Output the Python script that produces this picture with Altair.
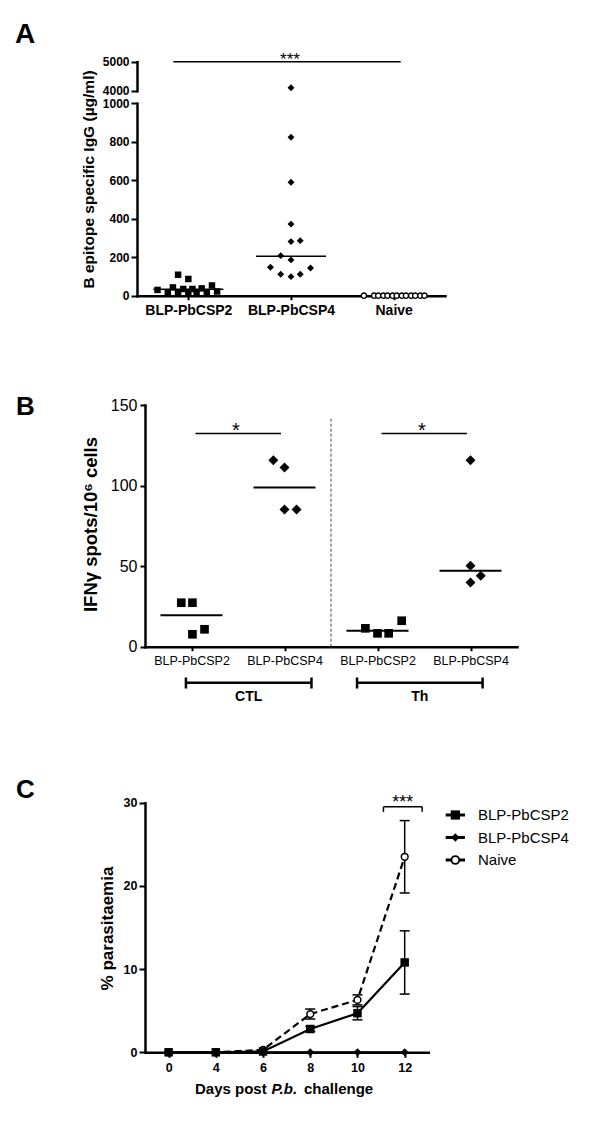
import altair as alt
import pandas as pd

FONT = "Liberation Sans"

# ---------------- Panel A : B epitope specific IgG ----------------
a_groups = ["BLP-PbCSP2", "BLP-PbCSP4", "Naive"]
a_csp2_igg = [109, 87, 30, 43, 35, 35, 38, 53, 18, 16, 14, 14, 16, 22]
a_csp2_jit = [-0.10, 0.00, -0.30, -0.15, -0.05, 0.04, 0.13, 0.23, -0.20, -0.10, 0.00, 0.08, 0.18, 0.28]
a_csp4_igg = [4100, 823, 589, 372, 281, 286, 208, 186, 148, 144, 111, 99, 111]
a_csp4_jit = [0.00, 0.00, 0.00, 0.00, 0.00, 0.09, -0.10, 0.00, -0.20, 0.19, -0.10, 0.00, 0.09]
a_naive_igg = [0, 0, 0, 0, 0, 0, 0, 0, 0, 0, 0, 0, 0]
a_naive_jit = [-0.29, -0.19, -0.15, -0.10, -0.06, -0.01, 0.03, 0.08, 0.12, 0.17, 0.21, 0.26, 0.30]
a_medians = [33, 205, 0]
a_ticks_low = [0, 200, 400, 600, 800, 1000]
a_ticks_high = [4000, 5000]
a_sig_pair = ["BLP-PbCSP2", "Naive"]
a_sig_level = 5000
a_sig_label = "***"

# ---------------- Panel B : IFN-gamma ELISpot ----------------
b_groups = ["CTL:BLP-PbCSP2", "CTL:BLP-PbCSP4", "Th:BLP-PbCSP2", "Th:BLP-PbCSP4"]
b_ctl_csp2 = [27.3, 27.3, 7.7, 10.8]
b_ctl_csp2_jit = [-0.11, 0.01, 0.01, 0.14]
b_ctl_csp4 = [115.7, 111.2, 85.2, 85.2]
b_ctl_csp4_jit = [-0.12, 0.00, 0.00, 0.13]
b_th_csp2 = [11.4, 8.3, 8.3, 16.1]
b_th_csp2_jit = [-0.13, 0.00, 0.12, 0.26]
b_th_csp4 = [115.7, 50.2, 44.0, 39.9]
b_th_csp4_jit = [0.00, 0.00, 0.11, 0.00]
b_medians = [19.5, 98.8, 9.9, 47.1]
b_ticks = [0, 50, 100, 150]
b_sig_from = ["CTL:BLP-PbCSP2", "Th:BLP-PbCSP2"]
b_sig_to = ["CTL:BLP-PbCSP4", "Th:BLP-PbCSP4"]
b_sig_level = [132.3, 132.3]
b_sig_label = ["*", "*"]
b_brackets = ["CTL", "Th"]
b_bracket_start = [-0.06, 1.78]
b_bracket_end = [1.29, 3.13]
b_divider_pos = [1.5]
b_divider_range = [0, 142.6]

# ---------------- Panel C : parasitaemia ----------------
c_days = [0, 4, 6, 8, 10, 12]
c_series = ["BLP-PbCSP2", "BLP-PbCSP4", "Naive"]
c_csp2 = [0, 0, 0.1, 2.8, 4.7, 10.8]
c_csp2_sem = [0, 0, 0, 0.3, 0.8, 3.8]
c_csp4 = [0, 0, 0, 0, 0, 0]
c_csp4_sem = [0, 0, 0, 0, 0, 0]
c_naive = [0, 0, 0.3, 4.6, 6.3, 23.5]
c_naive_sem = [0, 0, 0, 0.6, 0.6, 4.35]
c_ticks = [0, 10, 20, 30]
c_sig_from = [4.55]
c_sig_to = [5.37]
c_sig_level = [29.5]
c_sig_drop = [28.9]
c_sig_label = ["***"]
c_xtitle = ["Days post", "P.b.", "challenge"]
panel_letters = ["A", "B", "C"]

# ---------------- layout (plot-area pixels) ----------------
W, H = 584, 1112
XA_PT = alt.Scale(type="point", domain=a_groups, range=[129, 437], padding=0.5)
XA_LIN = alt.Scale(domain=[-0.5, 2.5], range=[129, 437])
YA_HI = alt.Scale(domain=[4000, 5000], range=[82.7, 53.7])
YA_LO = alt.Scale(domain=[0, 1000], range=[287.7, 95.2])

XB_PT = alt.Scale(type="point", domain=b_groups, range=[137, 509], padding=0.5)
XB_LIN = alt.Scale(domain=[-0.5, 3.5], range=[137, 509])
YB = alt.Scale(domain=[0, 150], range=[638.7, 397])

XC_PT = alt.Scale(type="point", domain=c_days, range=[137, 420.3], padding=0.5)
XC_LIN = alt.Scale(domain=[-0.5, 5.5], range=[137, 420.3])
YC = alt.Scale(domain=[0, 30], range=[1044.3, 794.7])

LEG_X = alt.Scale(domain=[0, 1], range=[437.7, 457])
LEG_Y = alt.Scale(type="point", domain=c_series, range=[807, 852], padding=0)


def axis(orient, offset, size=12.5, weight="bold", tick=5, pad=3, **kw):
    args = dict(orient=orient, offset=offset, grid=False, domainColor="black",
                domainWidth=2.5, domainCap="square", tickColor="black", tickWidth=2,
                tickSize=tick, labelPadding=pad, labelColor="black", labelFont=FONT,
                labelFontSize=size, labelFontWeight=weight, labelFlush=False,
                labelOverlap=False)
    if orient == "bottom":
        args["labelAngle"] = 0
    args.update(kw)
    return alt.Axis(**args)


def ytitle(text, size, tx, ty):
    return dict(title=text, titleFont=FONT, titleFontSize=size, titleFontWeight="bold",
                titleColor="black", titleAngle=270, titleBaseline="alphabetic",
                titleAlign="center", titleX=tx, titleY=ty)


layers = []

# ---------- Panel A ----------
a_rows = []
for gi, (vals, jits) in enumerate([(a_csp2_igg, a_csp2_jit), (a_csp4_igg, a_csp4_jit),
                                   (a_naive_igg, a_naive_jit)]):
    for v, j in zip(vals, jits):
        a_rows.append({"group": a_groups[gi], "pos": gi + j, "igg": v})
dfa = pd.DataFrame(a_rows)
dfa_lo = dfa[dfa["igg"] <= 1000]
dfa_hi = dfa[dfa["igg"] > 1000]
dfa_med = pd.DataFrame({"group": a_groups, "median": a_medians})

layers.append(alt.Chart(dfa_med).mark_tick(size=70, thickness=1.5, color="black", opacity=1).encode(
    x=alt.X("group:N", scale=XA_PT, axis=axis("bottom", 287.7 - H, size=14, tick=4, pad=4, title=None)),
    y=alt.Y("median:Q", scale=YA_LO,
            axis=axis("left", -129, size=12, tick=6, pad=2, values=a_ticks_low, format="d",
                      **ytitle("B epitope specific IgG (µg/ml)", 15.5, -44, 171)))))

layers.append(alt.Chart(dfa_lo[dfa_lo["group"] == a_groups[0]]).mark_point(
    shape="square", filled=True, size=42, color="black", opacity=1).encode(
    x=alt.X("pos:Q", scale=XA_LIN, axis=None), y=alt.Y("igg:Q", scale=YA_LO, axis=None)))
layers.append(alt.Chart(dfa_lo[dfa_lo["group"] == a_groups[1]]).mark_point(
    shape="diamond", filled=True, size=48, color="black", opacity=1).encode(
    x=alt.X("pos:Q", scale=XA_LIN, axis=None), y=alt.Y("igg:Q", scale=YA_LO, axis=None)))
layers.append(alt.Chart(dfa_lo[dfa_lo["group"] == a_groups[2]]).mark_point(
    shape="circle", filled=True, fill="white", stroke="black", strokeWidth=1.4, size=28, opacity=1).encode(
    x=alt.X("pos:Q", scale=XA_LIN, axis=None), y=alt.Y("igg:Q", scale=YA_LO, axis=None)))
layers.append(alt.Chart(dfa_hi).mark_point(
    shape="diamond", filled=True, size=48, color="black", opacity=1).encode(
    x=alt.X("pos:Q", scale=XA_LIN, axis=None),
    y=alt.Y("igg:Q", scale=YA_HI, axis=axis("left", -129, size=12, tick=6, pad=2, values=a_ticks_high,
                                            format="d", title=None))))

dfa_sig = pd.DataFrame({"i1": [a_groups.index(a_sig_pair[0])], "i2": [a_groups.index(a_sig_pair[1])],
                        "level": [a_sig_level], "label": [a_sig_label]})
dfa_sig["mid"] = (dfa_sig["i1"] + dfa_sig["i2"]) / 2
layers.append(alt.Chart(dfa_sig).mark_rule(color="black", strokeWidth=1.5, xOffset=-15, x2Offset=7).encode(
    x=alt.X("i1:Q", scale=XA_LIN, axis=None), x2="i2:Q",
    y=alt.Y("level:Q", scale=YA_HI, axis=None)))
layers.append(alt.Chart(dfa_sig).mark_text(fontSize=17, baseline="alphabetic", dy=3, dx=-1,
                                           color="black").encode(
    x=alt.X("mid:Q", scale=XA_LIN, axis=None), y=alt.Y("level:Q", scale=YA_HI, axis=None),
    text="label:N"))

# ---------- Panel B ----------
b_rows = []
for gi, (vals, jits) in enumerate([(b_ctl_csp2, b_ctl_csp2_jit), (b_ctl_csp4, b_ctl_csp4_jit),
                                   (b_th_csp2, b_th_csp2_jit), (b_th_csp4, b_th_csp4_jit)]):
    for v, j in zip(vals, jits):
        b_rows.append({"group": b_groups[gi], "vaccine": b_groups[gi].split(":")[1],
                       "pos": gi + j, "spots": v})
dfb = pd.DataFrame(b_rows)
dfb_med = pd.DataFrame({"group": b_groups, "median": b_medians})

layers.append(alt.Chart(dfb_med).mark_tick(size=62, thickness=2, color="black", opacity=1).encode(
    x=alt.X("group:N", scale=XB_PT,
            axis=axis("bottom", 638.7 - H, size=12.5, weight="normal", tick=4, pad=3.5, title=None,
                      labelExpr="split(datum.label, ':')[1]")),
    y=alt.Y("median:Q", scale=YB,
            axis=axis("left", -137, size=16, weight="normal", tick=5, pad=3, values=b_ticks,
                      format="d", **ytitle("IFNγ spots/10⁶ cells", 18.5, -48.5, 516)))))

layers.append(alt.Chart(dfb[dfb["vaccine"] == "BLP-PbCSP2"]).mark_point(
    shape="square", filled=True, size=75, color="black", opacity=1).encode(
    x=alt.X("pos:Q", scale=XB_LIN, axis=None), y=alt.Y("spots:Q", scale=YB, axis=None)))
layers.append(alt.Chart(dfb[dfb["vaccine"] == "BLP-PbCSP4"]).mark_point(
    shape="diamond", filled=True, size=100, color="black", opacity=1).encode(
    x=alt.X("pos:Q", scale=XB_LIN, axis=None), y=alt.Y("spots:Q", scale=YB, axis=None)))

dfb_div = pd.DataFrame({"pos": b_divider_pos, "bottom": [b_divider_range[0]], "top": [b_divider_range[1]]})
layers.append(alt.Chart(dfb_div).mark_rule(color="#444444", strokeWidth=1, strokeDash=[3, 2]).encode(
    x=alt.X("pos:Q", scale=XB_LIN, axis=None),
    y=alt.Y("bottom:Q", scale=YB, axis=None), y2="top:Q"))

dfb_sig = pd.DataFrame({"i1": [b_groups.index(f) for f in b_sig_from],
                        "i2": [b_groups.index(t) for t in b_sig_to],
                        "level": b_sig_level, "label": b_sig_label})
dfb_sig["mid"] = (dfb_sig["i1"] + dfb_sig["i2"]) / 2
layers.append(alt.Chart(dfb_sig).mark_rule(color="black", strokeWidth=1.5, xOffset=4, x2Offset=-3.5).encode(
    x=alt.X("i1:Q", scale=XB_LIN, axis=None), x2="i2:Q",
    y=alt.Y("level:Q", scale=YB, axis=None)))
layers.append(alt.Chart(dfb_sig).mark_text(fontSize=20, baseline="alphabetic", dy=3.2, dx=-2,
                                           color="black").encode(
    x=alt.X("mid:Q", scale=XB_LIN, axis=None), y=alt.Y("level:Q", scale=YB, axis=None), text="label:N"))

dfb_br = pd.DataFrame({"name": b_brackets, "start": b_bracket_start, "end": b_bracket_end})
dfb_br["mid"] = (dfb_br["start"] + dfb_br["end"]) / 2
layers.append(alt.Chart(dfb_br).mark_rule(color="black", strokeWidth=2.5).encode(
    x=alt.X("start:Q", scale=XB_LIN, axis=None), x2="end:Q", y=alt.value(674.7)))
for endf in ["start", "end"]:
    layers.append(alt.Chart(dfb_br).mark_rule(color="black", strokeWidth=2.5).encode(
        x=alt.X(f"{endf}:Q", scale=XB_LIN, axis=None), y=alt.value(669.5), y2=alt.value(680.5)))
layers.append(alt.Chart(dfb_br).mark_text(
    fontSize=14, fontWeight="bold", baseline="middle", color="black").encode(
    x=alt.X("mid:Q", scale=XB_LIN, axis=None), y=alt.value(689), text="name:N"))

# ---------- Panel C ----------
c_rows = []
for s, means, sems in zip(c_series, [c_csp2, c_csp4, c_naive], [c_csp2_sem, c_csp4_sem, c_naive_sem]):
    for d, m, e in zip(c_days, means, sems):
        c_rows.append({"series": s, "day": d, "mean": m, "sem": e, "lo": m - e, "hi": m + e})
dfc = pd.DataFrame(c_rows)
dfc_err = dfc[dfc["sem"] > 0]

# error bars
layers.append(alt.Chart(dfc_err).mark_rule(color="black", strokeWidth=1.5).encode(
    x=alt.X("day:O", scale=XC_PT, axis=None), y=alt.Y("lo:Q", scale=YC, axis=None), y2="hi:Q"))
for f in ["lo", "hi"]:
    layers.append(alt.Chart(dfc_err).mark_tick(size=10, thickness=1.5, color="black", opacity=1).encode(
        x=alt.X("day:O", scale=XC_PT, axis=None), y=alt.Y(f"{f}:Q", scale=YC, axis=None)))

# lines
layers.append(alt.Chart(dfc[dfc["series"] == "Naive"]).mark_line(
    color="black", strokeWidth=2.2, strokeDash=[7, 4]).encode(
    x=alt.X("day:O", scale=XC_PT, axis=None), y=alt.Y("mean:Q", scale=YC, axis=None)))
layers.append(alt.Chart(dfc[dfc["series"] == "BLP-PbCSP2"]).mark_line(color="black", strokeWidth=2.2).encode(
    x=alt.X("day:O", scale=XC_PT, axis=axis("bottom", 1044.3 - H, size=12.5, tick=5, pad=4, title=None)),
    y=alt.Y("mean:Q", scale=YC,
            axis=axis("left", -137, tick=6, pad=2, values=c_ticks, format="d",
                      **ytitle("% parasitaemia", 17, -33, 920)))))
layers.append(alt.Chart(dfc[dfc["series"] == "BLP-PbCSP4"]).mark_line(color="black", strokeWidth=2.2).encode(
    x=alt.X("day:O", scale=XC_PT, axis=None), y=alt.Y("mean:Q", scale=YC, axis=None)))

# markers
layers.append(alt.Chart(dfc[dfc["series"] == "Naive"]).mark_point(
    shape="circle", filled=True, fill="white", stroke="black", strokeWidth=1.5, size=46, opacity=1).encode(
    x=alt.X("day:O", scale=XC_PT, axis=None), y=alt.Y("mean:Q", scale=YC, axis=None)))
layers.append(alt.Chart(dfc[dfc["series"] == "BLP-PbCSP2"]).mark_point(
    shape="square", filled=True, size=72, color="black", opacity=1).encode(
    x=alt.X("day:O", scale=XC_PT, axis=None), y=alt.Y("mean:Q", scale=YC, axis=None)))
layers.append(alt.Chart(dfc[dfc["series"] == "BLP-PbCSP4"]).mark_point(
    shape="diamond", filled=True, size=64, color="black", opacity=1).encode(
    x=alt.X("day:O", scale=XC_PT, axis=None), y=alt.Y("mean:Q", scale=YC, axis=None)))

# significance bracket
dfc_sig = pd.DataFrame({"x1": c_sig_from, "x2": c_sig_to, "level": c_sig_level,
                        "drop": c_sig_drop, "label": c_sig_label})
dfc_sig["mid"] = (dfc_sig["x1"] + dfc_sig["x2"]) / 2
layers.append(alt.Chart(dfc_sig).mark_rule(color="black", strokeWidth=1.5).encode(
    x=alt.X("x1:Q", scale=XC_LIN, axis=None), x2="x2:Q", y=alt.Y("level:Q", scale=YC, axis=None)))
for f in ["x1", "x2"]:
    layers.append(alt.Chart(dfc_sig).mark_rule(color="black", strokeWidth=1.5).encode(
        x=alt.X(f"{f}:Q", scale=XC_LIN, axis=None), y=alt.Y("level:Q", scale=YC, axis=None), y2="drop:Q"))
layers.append(alt.Chart(dfc_sig).mark_text(
    fontSize=18, baseline="alphabetic", dy=1, color="black").encode(
    x=alt.X("mid:Q", scale=XC_LIN, axis=None), y=alt.Y("level:Q", scale=YC, axis=None), text="label:N"))

# legend (line segment from 0 to 1 in legend units, symbol at its middle)
dfleg = pd.DataFrame({"series": c_series, "seg0": [0] * 3, "seg1": [1] * 3, "segm": [0.5] * 3})
layers.append(alt.Chart(dfleg).mark_rule(color="black", strokeWidth=3).encode(
    x=alt.X("seg0:Q", scale=LEG_X, axis=None), x2="seg1:Q",
    y=alt.Y("series:N", scale=LEG_Y, axis=None)))
layers.append(alt.Chart(dfleg[dfleg["series"] == "BLP-PbCSP2"]).mark_point(
    shape="square", filled=True, size=85, color="black", opacity=1).encode(
    x=alt.X("segm:Q", scale=LEG_X, axis=None), y=alt.Y("series:N", scale=LEG_Y, axis=None)))
layers.append(alt.Chart(dfleg[dfleg["series"] == "BLP-PbCSP4"]).mark_point(
    shape="diamond", filled=True, size=70, color="black", opacity=1).encode(
    x=alt.X("segm:Q", scale=LEG_X, axis=None), y=alt.Y("series:N", scale=LEG_Y, axis=None)))
layers.append(alt.Chart(dfleg[dfleg["series"] == "Naive"]).mark_point(
    shape="circle", filled=True, fill="white", stroke="black", strokeWidth=1.8, size=60, opacity=1).encode(
    x=alt.X("segm:Q", scale=LEG_X, axis=None), y=alt.Y("series:N", scale=LEG_Y, axis=None)))
layers.append(alt.Chart(dfleg).mark_text(align="left", baseline="middle", dx=13, fontSize=15,
                                         color="black").encode(
    x=alt.X("seg1:Q", scale=LEG_X, axis=None), y=alt.Y("series:N", scale=LEG_Y, axis=None),
    text="series:N"))

# x-axis title of panel C (with italic species abbreviation)
for txt, px, style in zip(c_xtitle, [187, 263.5, 296], ["normal", "italic", "normal"]):
    layers.append(alt.Chart(pd.DataFrame({"t": [txt]})).mark_text(
        align="left", baseline="alphabetic", fontSize=15, fontWeight="bold", fontStyle=style,
        color="black").encode(x=alt.value(px), y=alt.value(1086), text="t:N"))

# panel letters
for letter, px, py, fs in zip(panel_letters, [7, 8, 8], [35.3, 407, 790.3], [28, 26, 26]):
    layers.append(alt.Chart(pd.DataFrame({"t": [letter]})).mark_text(
        align="left", baseline="alphabetic", fontSize=fs, fontWeight="bold", color="black").encode(
        x=alt.value(px), y=alt.value(py), text="t:N"))

chart = alt.layer(*layers).resolve_scale(x="independent", y="independent").properties(
    width=W, height=H, autosize=alt.AutoSizeParams(type="none"), padding=0
).configure(font=FONT).configure_view(strokeWidth=0)

chart.save("out.html", embed_options={"renderer": "svg", "actions": False})
